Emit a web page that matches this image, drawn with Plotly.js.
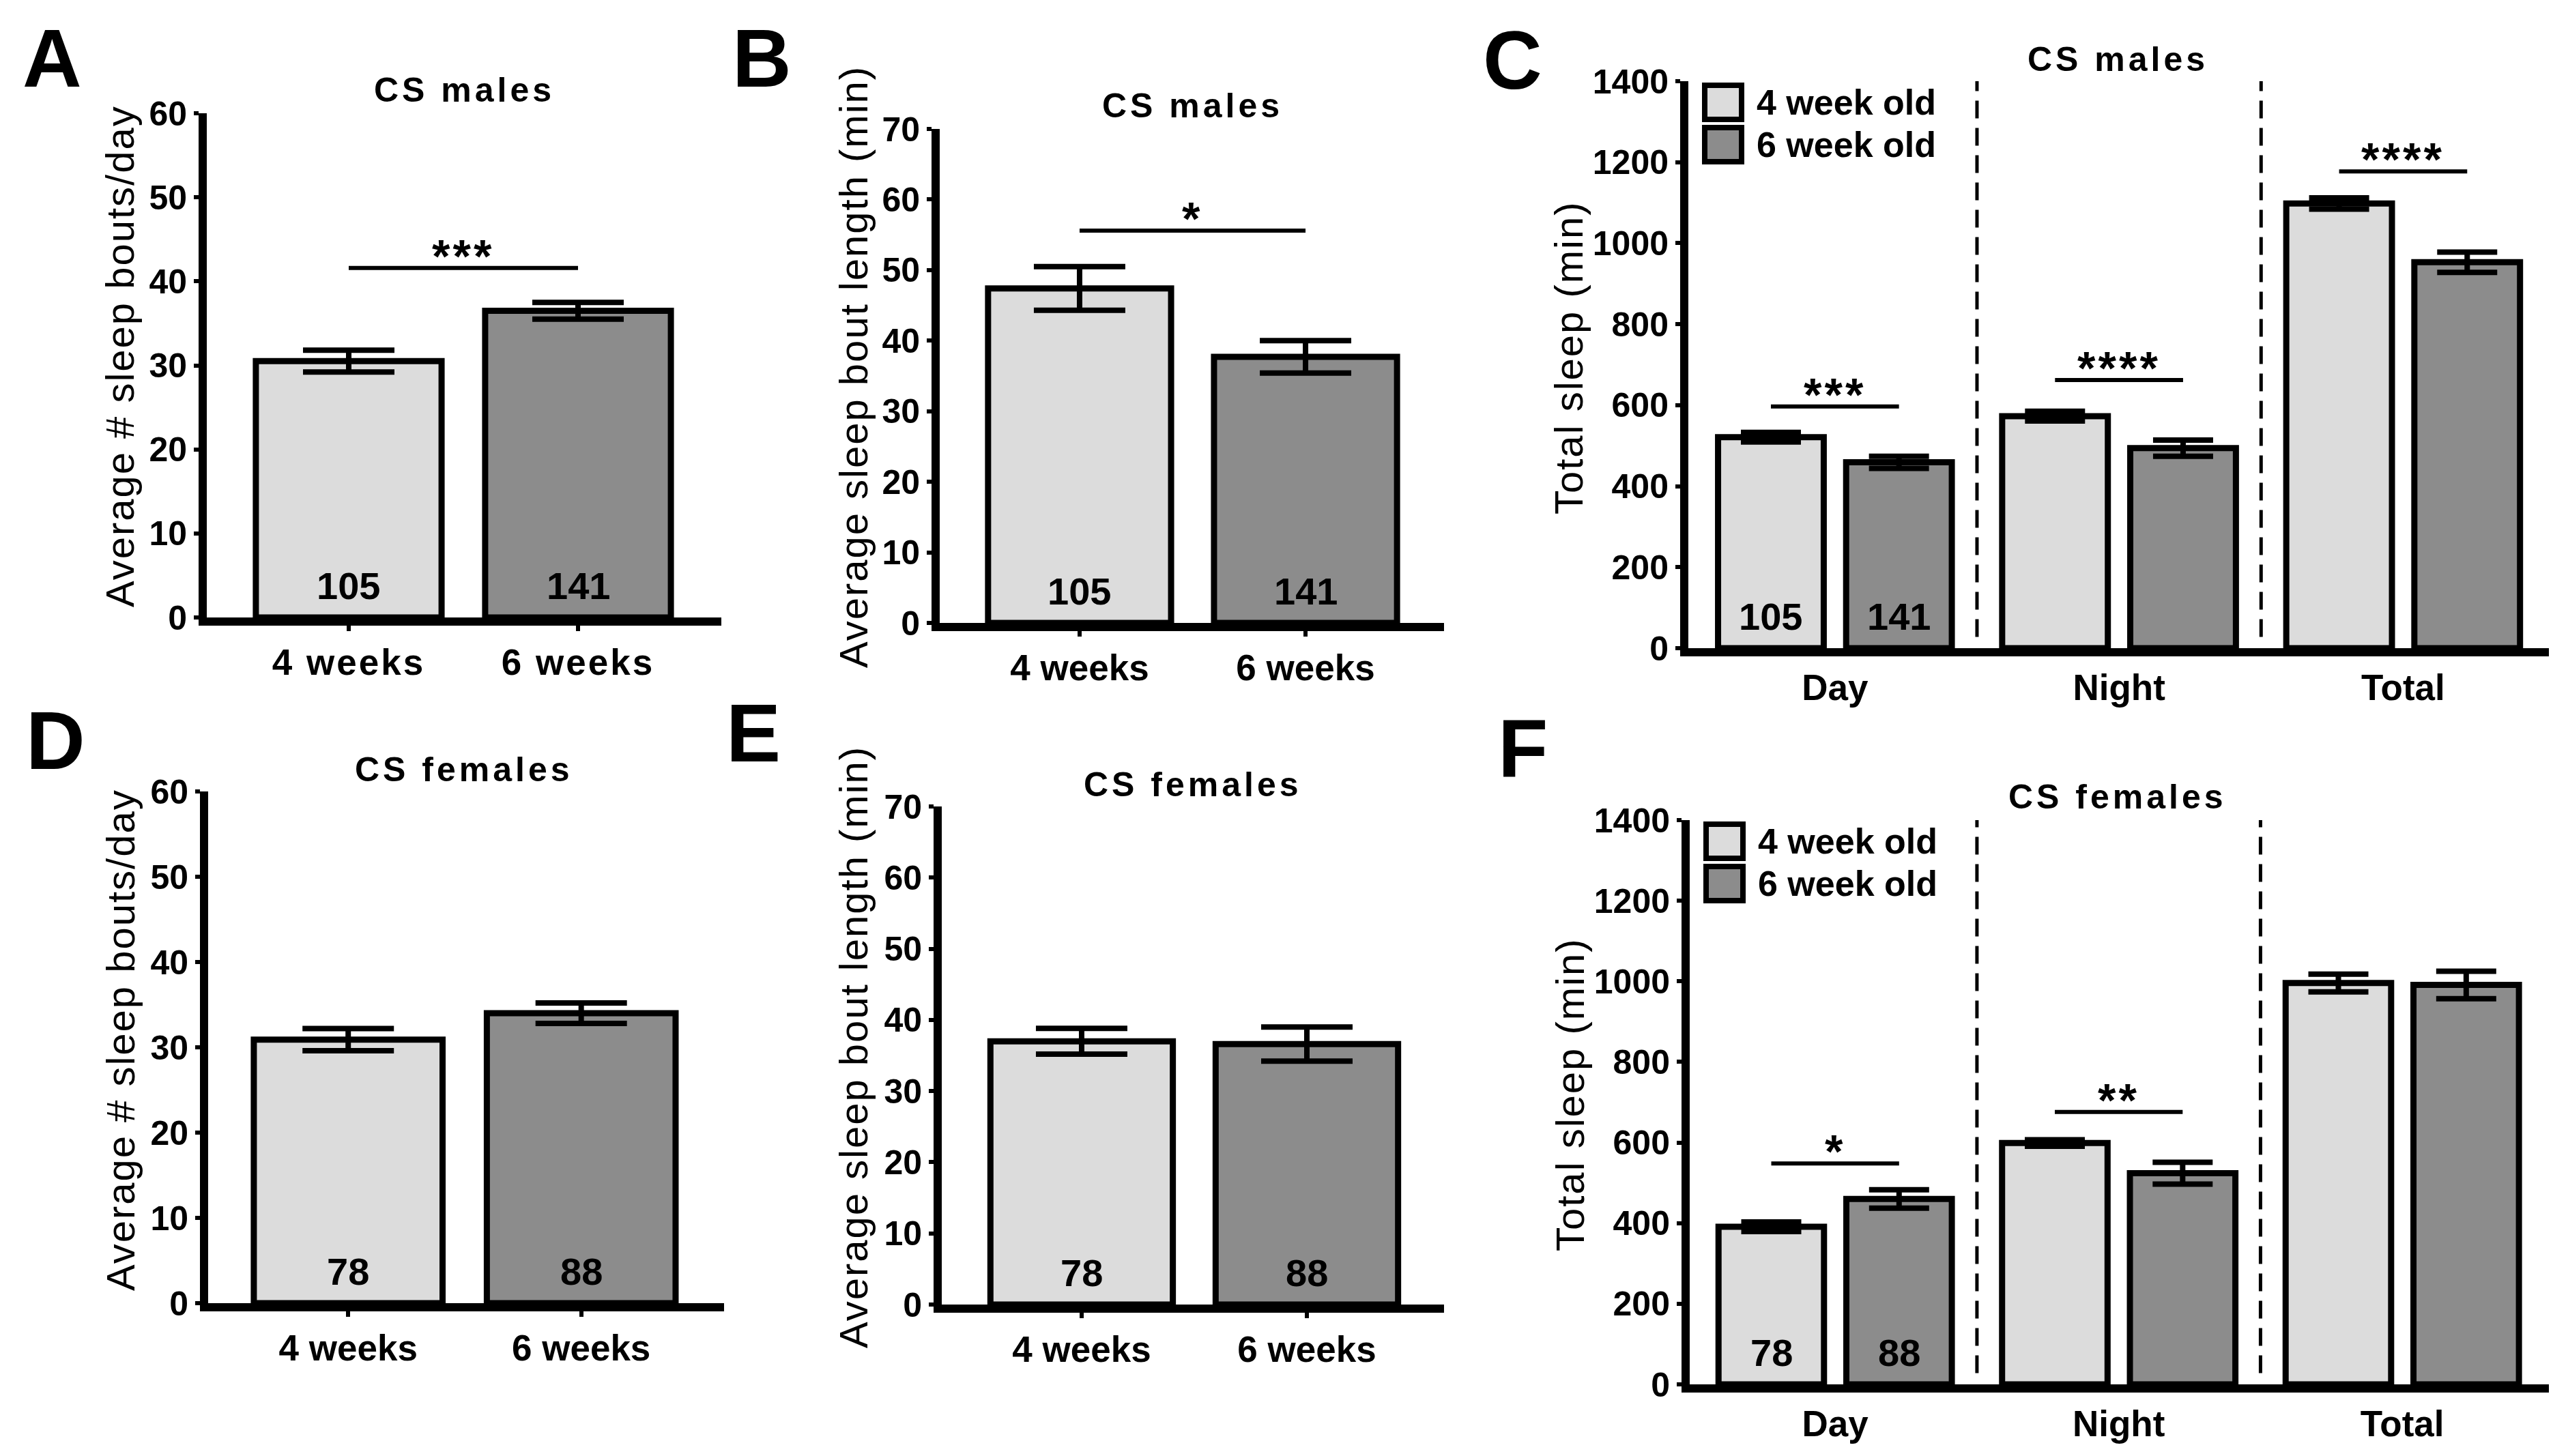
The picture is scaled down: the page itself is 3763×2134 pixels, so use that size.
<!DOCTYPE html>
<html>
<head>
<meta charset="utf-8">
<script src="https://cdn.plot.ly/plotly-3.0.1.min.js"></script>
<style>
  html, body { margin: 0; padding: 0; background: #ffffff; }
  #chart { width: 3763px; height: 2134px; }
  .xtick text { letter-spacing: 3px; }
</style>
</head>
<body>
<div id="chart"></div>
<script>
// ---------------- DATA ----------------
const ageGroups = ['4 weeks', '6 weeks'];
const periods = ['Day', 'Night', 'Total'];
const legendNames = ['4 week old', '6 week old'];

// A: CS males, average # sleep bouts/day
const boutsMales = [30.5, 36.5];
const boutsMalesErr = [1.3, 1.0];
// B: CS males, average sleep bout length (min)
const boutLenMales = [47.4, 37.7];
const boutLenMalesErr = [3.1, 2.3];
// D: CS females, average # sleep bouts/day
const boutsFemales = [30.9, 34.0];
const boutsFemalesErr = [1.3, 1.2];
// E: CS females, average sleep bout length (min)
const boutLenFemales = [37.0, 36.6];
const boutLenFemalesErr = [1.8, 2.4];

// C: CS males, total sleep (min)
const sleepMales4 = [521, 573, 1098];
const sleepMales4Err = [12, 12, 14];
const sleepMales6 = [459, 494, 953];
const sleepMales6Err = [15, 20, 25];
// F: CS females, total sleep (min)
const sleepFemales4 = [391, 599, 996];
const sleepFemales4Err = [12, 8, 22];
const sleepFemales6 = [460, 524, 991];
const sleepFemales6Err = [23, 27, 34];

// sample sizes
const nMales = [105, 141];
const nFemales = [78, 88];

// significance bars: level (axis value) and label
const sigA = [41.6, '***'];
const sigB = [55.6, '*'];
const sigC = [[597, '***'], [662, '****'], [1177, '****']];
const sigF = [[548, '*'], [676, '**'], null];

// ---------------- STYLE ----------------
const W = 3763, H = 2134;
const FONT = 'Liberation Sans, Arial, Helvetica, sans-serif';
const LIGHT = '#dcdcdc', DARK = '#8c8c8c';
const px = v => v / W;
const py = v => 1 - v / H;

const GROUP_OFF = 0.2254;   // half distance between grouped bars (category units)
const GBAR_W = 0.372;       // grouped bar width

// ---------------- TRACES ----------------
function pairTrace(xa, ya, vals, errs) {
  return {
    type: 'bar', x: ageGroups, y: vals, xaxis: xa, yaxis: ya, width: 0.81,
    marker: { color: [LIGHT, DARK], line: { color: '#000', width: 9 } },
    error_y: { type: 'data', array: errs, color: '#000', thickness: 8, width: 67 },
    hoverinfo: 'none', showlegend: false
  };
}
function groupTrace(xa, ya, vals, errs, color, side) {
  return {
    type: 'bar', x: periods, y: vals, xaxis: xa, yaxis: ya,
    width: GBAR_W, offset: side * GROUP_OFF - GBAR_W / 2,
    marker: { color: color, line: { color: '#000', width: 9 } },
    error_y: { type: 'data', array: errs, color: '#000', thickness: 8, width: 44 },
    hoverinfo: 'none', showlegend: false
  };
}

const data = [
  pairTrace('x', 'y', boutsMales, boutsMalesErr),
  pairTrace('x2', 'y2', boutLenMales, boutLenMalesErr),
  groupTrace('x3', 'y3', sleepMales4, sleepMales4Err, LIGHT, -1),
  groupTrace('x3', 'y3', sleepMales6, sleepMales6Err, DARK, 1),
  pairTrace('x4', 'y4', boutsFemales, boutsFemalesErr),
  pairTrace('x5', 'y5', boutLenFemales, boutLenFemalesErr),
  groupTrace('x6', 'y6', sleepFemales4, sleepFemales4Err, LIGHT, -1),
  groupTrace('x6', 'y6', sleepFemales6, sleepFemales6Err, DARK, 1)
];

// ---------------- AXES ----------------
const tickFont = { family: FONT, size: 50, color: '#000', weight: 'bold' };
const catFont = { family: FONT, size: 53, color: '#000', weight: 'bold' };

function xCat(dom, range, anchor, showTicks) {
  return {
    domain: [px(dom[0]), px(dom[1])], range: range, anchor: anchor, type: 'category',
    showline: true, linecolor: '#000', linewidth: 12, showgrid: false, zeroline: false,
    ticks: showTicks ? 'outside' : '', ticklen: 8, tickwidth: 6, tickcolor: '#000',
    tickfont: catFont, ticklabelstandoff: 0, fixedrange: true
  };
}
function yLin(dom, range, dtick, anchor) {
  return {
    domain: [py(dom[1]), py(dom[0])], range: range, dtick: dtick, anchor: anchor,
    showline: true, linecolor: '#000', linewidth: 12, showgrid: false, zeroline: false,
    ticks: 'outside', ticklen: 7, tickwidth: 6, tickcolor: '#000',
    tickfont: tickFont, ticklabelstandoff: 0, fixedrange: true
  };
}
function xTickOverlay(over, dom, range, anchor) {
  return {
    overlaying: over, anchor: anchor, domain: [px(dom[0]), px(dom[1])], range: range,
    type: 'linear', showline: false, showgrid: false, zeroline: false,
    tickvals: periods.flatMap((p, i) => [i - GROUP_OFF, i + GROUP_OFF]),
    showticklabels: false, ticks: 'outside', ticklen: 8, tickwidth: 6, tickcolor: '#000',
    fixedrange: true
  };
}

const domA = { x: [303, 1057], y: [166, 905] };
const domB = { x: [1377, 2116], y: [189, 913] };
const domC = { x: [2474, 3735], y: [119, 950] };
const domD = { x: [305, 1061], y: [1160, 1910] };
const domE = { x: [1380, 2116], y: [1182, 1912] };
const domF = { x: [2476, 3735], y: [1202, 2029] };
const rangeC = [-0.516, 2.513], rangeF = [-0.513, 2.517];

const layout = {
  width: W, height: H,
  margin: { l: 0, r: 0, t: 0, b: 0, pad: 0 },
  paper_bgcolor: '#fff', plot_bgcolor: 'rgba(0,0,0,0)',
  barmode: 'group', showlegend: false,
  font: { family: FONT, color: '#000' },
  xaxis: xCat(domA.x, [-0.619, 1.625], 'y', true),
  yaxis: yLin(domA.y, [0, 60], 10, 'x'),
  xaxis2: xCat(domB.x, [-0.619, 1.613], 'y2', true),
  yaxis2: yLin(domB.y, [0, 70], 10, 'x2'),
  xaxis3: xCat(domC.x, rangeC, 'y3', false),
  yaxis3: yLin(domC.y, [0, 1400], 200, 'x3'),
  xaxis4: xCat(domD.x, [-0.601, 1.613], 'y4', true),
  yaxis4: yLin(domD.y, [0, 60], 10, 'x4'),
  xaxis5: xCat(domE.x, [-0.621, 1.609], 'y5', true),
  yaxis5: yLin(domE.y, [0, 70], 10, 'x5'),
  xaxis6: xCat(domF.x, rangeF, 'y6', false),
  yaxis6: yLin(domF.y, [0, 1400], 200, 'x6'),
  xaxis7: xTickOverlay('x3', domC.x, rangeC, 'y3'),
  xaxis8: xTickOverlay('x6', domF.x, rangeF, 'y6'),
  shapes: [], annotations: []
};

const shapes = layout.shapes, ann = layout.annotations;

// panel letters
[['A', 76, 85], ['B', 1116, 85], ['C', 2216, 88], ['D', 81, 1085], ['E', 1104, 1074], ['F', 2231, 1096]]
  .forEach(([t, x, y]) => ann.push({ text: t, xref: 'paper', yref: 'paper', x: px(x), y: py(y),
    xanchor: 'center', yanchor: 'middle', showarrow: false,
    font: { family: FONT, size: 120, weight: 'bold', color: '#000' } }));

// panel titles
[['CS males', 680, 132], ['CS males', 1747, 155], ['CS males', 3103, 87],
 ['CS females', 680, 1128], ['CS females', 1748, 1150], ['CS females', 3103, 1168]]
  .forEach(([t, x, y]) => ann.push({ text: t, xref: 'paper', yref: 'paper', x: px(x), y: py(y),
    xanchor: 'center', yanchor: 'middle', showarrow: false,
    font: { family: FONT, size: 50, weight: 'bold', color: '#000' } }));

// y axis titles
[['Average # sleep bouts/day', 176, 522], ['Average sleep bout length (min)', 1250, 538],
 ['Total sleep (min)', 2298, 525], ['Average # sleep bouts/day', 176, 1524],
 ['Average sleep bout length (min)', 1250, 1535], ['Total sleep (min)', 2300, 1605]]
  .forEach(([t, x, y]) => ann.push({ text: t, xref: 'paper', yref: 'paper', x: px(x), y: py(y),
    xanchor: 'center', yanchor: 'middle', textangle: -90, showarrow: false,
    font: { family: FONT, size: 58, color: '#000' } }));

// n labels inside bars
function nLabels(xa, ya, ns, positions) {
  ns.forEach((n, i) => ann.push({ text: String(n), xref: xa, yref: ya, x: positions[i], y: 0,
    xanchor: 'center', yanchor: 'middle', yshift: 47, showarrow: false,
    font: { family: FONT, size: 56, weight: 'bold', color: '#000' } }));
}
nLabels('x', 'y', nMales, [0, 1]);
nLabels('x2', 'y2', nMales, [0, 1]);
nLabels('x3', 'y3', nMales, [-GROUP_OFF, GROUP_OFF]);
nLabels('x4', 'y4', nFemales, [0, 1]);
nLabels('x5', 'y5', nFemales, [0, 1]);
nLabels('x6', 'y6', nFemales, [-GROUP_OFF, GROUP_OFF]);

// significance bars
function sigBar(xa, ya, x0, x1, level, label) {
  shapes.push({ type: 'line', xref: xa, yref: ya, x0: x0, x1: x1, y0: level, y1: level,
    line: { color: '#000', width: 6 } });
  ann.push({ text: label, xref: xa, yref: ya, x: (x0 + x1) / 2, y: level,
    xanchor: 'center', yanchor: 'bottom', yshift: -22, showarrow: false,
    font: { family: FONT, size: 68, weight: 'bold', color: '#000' } });
}
sigBar('x', 'y', 0, 1, sigA[0], sigA[1]);
sigBar('x2', 'y2', 0, 1, sigB[0], sigB[1]);
sigC.forEach((s, i) => { if (s) sigBar('x3', 'y3', i - GROUP_OFF, i + GROUP_OFF, s[0], s[1]); });
sigF.forEach((s, i) => { if (s) sigBar('x6', 'y6', i - GROUP_OFF, i + GROUP_OFF, s[0], s[1]); });

// dashed separators between periods
[['x3', 'y3'], ['x6', 'y6']].forEach(([xa, ya]) => {
  [0.5, 1.5].forEach(xv => shapes.push({ type: 'line', xref: xa, yref: ya + ' domain',
    x0: xv, x1: xv, y0: 0.02, y1: 1, line: { color: '#000', width: 5, dash: '26px,14px' } }));
});

// manual legends (C and F)
function legendBox(left, top) {
  [LIGHT, DARK].forEach((c, i) => {
    const y0 = top + i * 62;
    shapes.push({ type: 'rect', xref: 'paper', yref: 'paper', x0: px(left), x1: px(left + 54),
      y0: py(y0 + 50), y1: py(y0), fillcolor: c, line: { color: '#000', width: 8 } });
    ann.push({ text: legendNames[i], xref: 'paper', yref: 'paper', x: px(left + 74), y: py(y0 + 25),
      xanchor: 'left', yanchor: 'middle', showarrow: false,
      font: { family: FONT, size: 52, weight: 'bold', color: '#000' } });
  });
}
legendBox(2498, 125);
legendBox(2500, 1208);

Plotly.newPlot('chart', data, layout, { staticPlot: true, displayModeBar: false }).then(gd => {
  gd.querySelectorAll('.annotation-text').forEach(t => {
    const s = t.textContent;
    if (/^CS /.test(s)) t.style.letterSpacing = '5px';
    else if (/Average|Total sleep/.test(s)) t.style.letterSpacing = '2px';
    else if (/^\*+$/.test(s)) t.style.letterSpacing = '4px';
  });
});
</script>
</body>
</html>
